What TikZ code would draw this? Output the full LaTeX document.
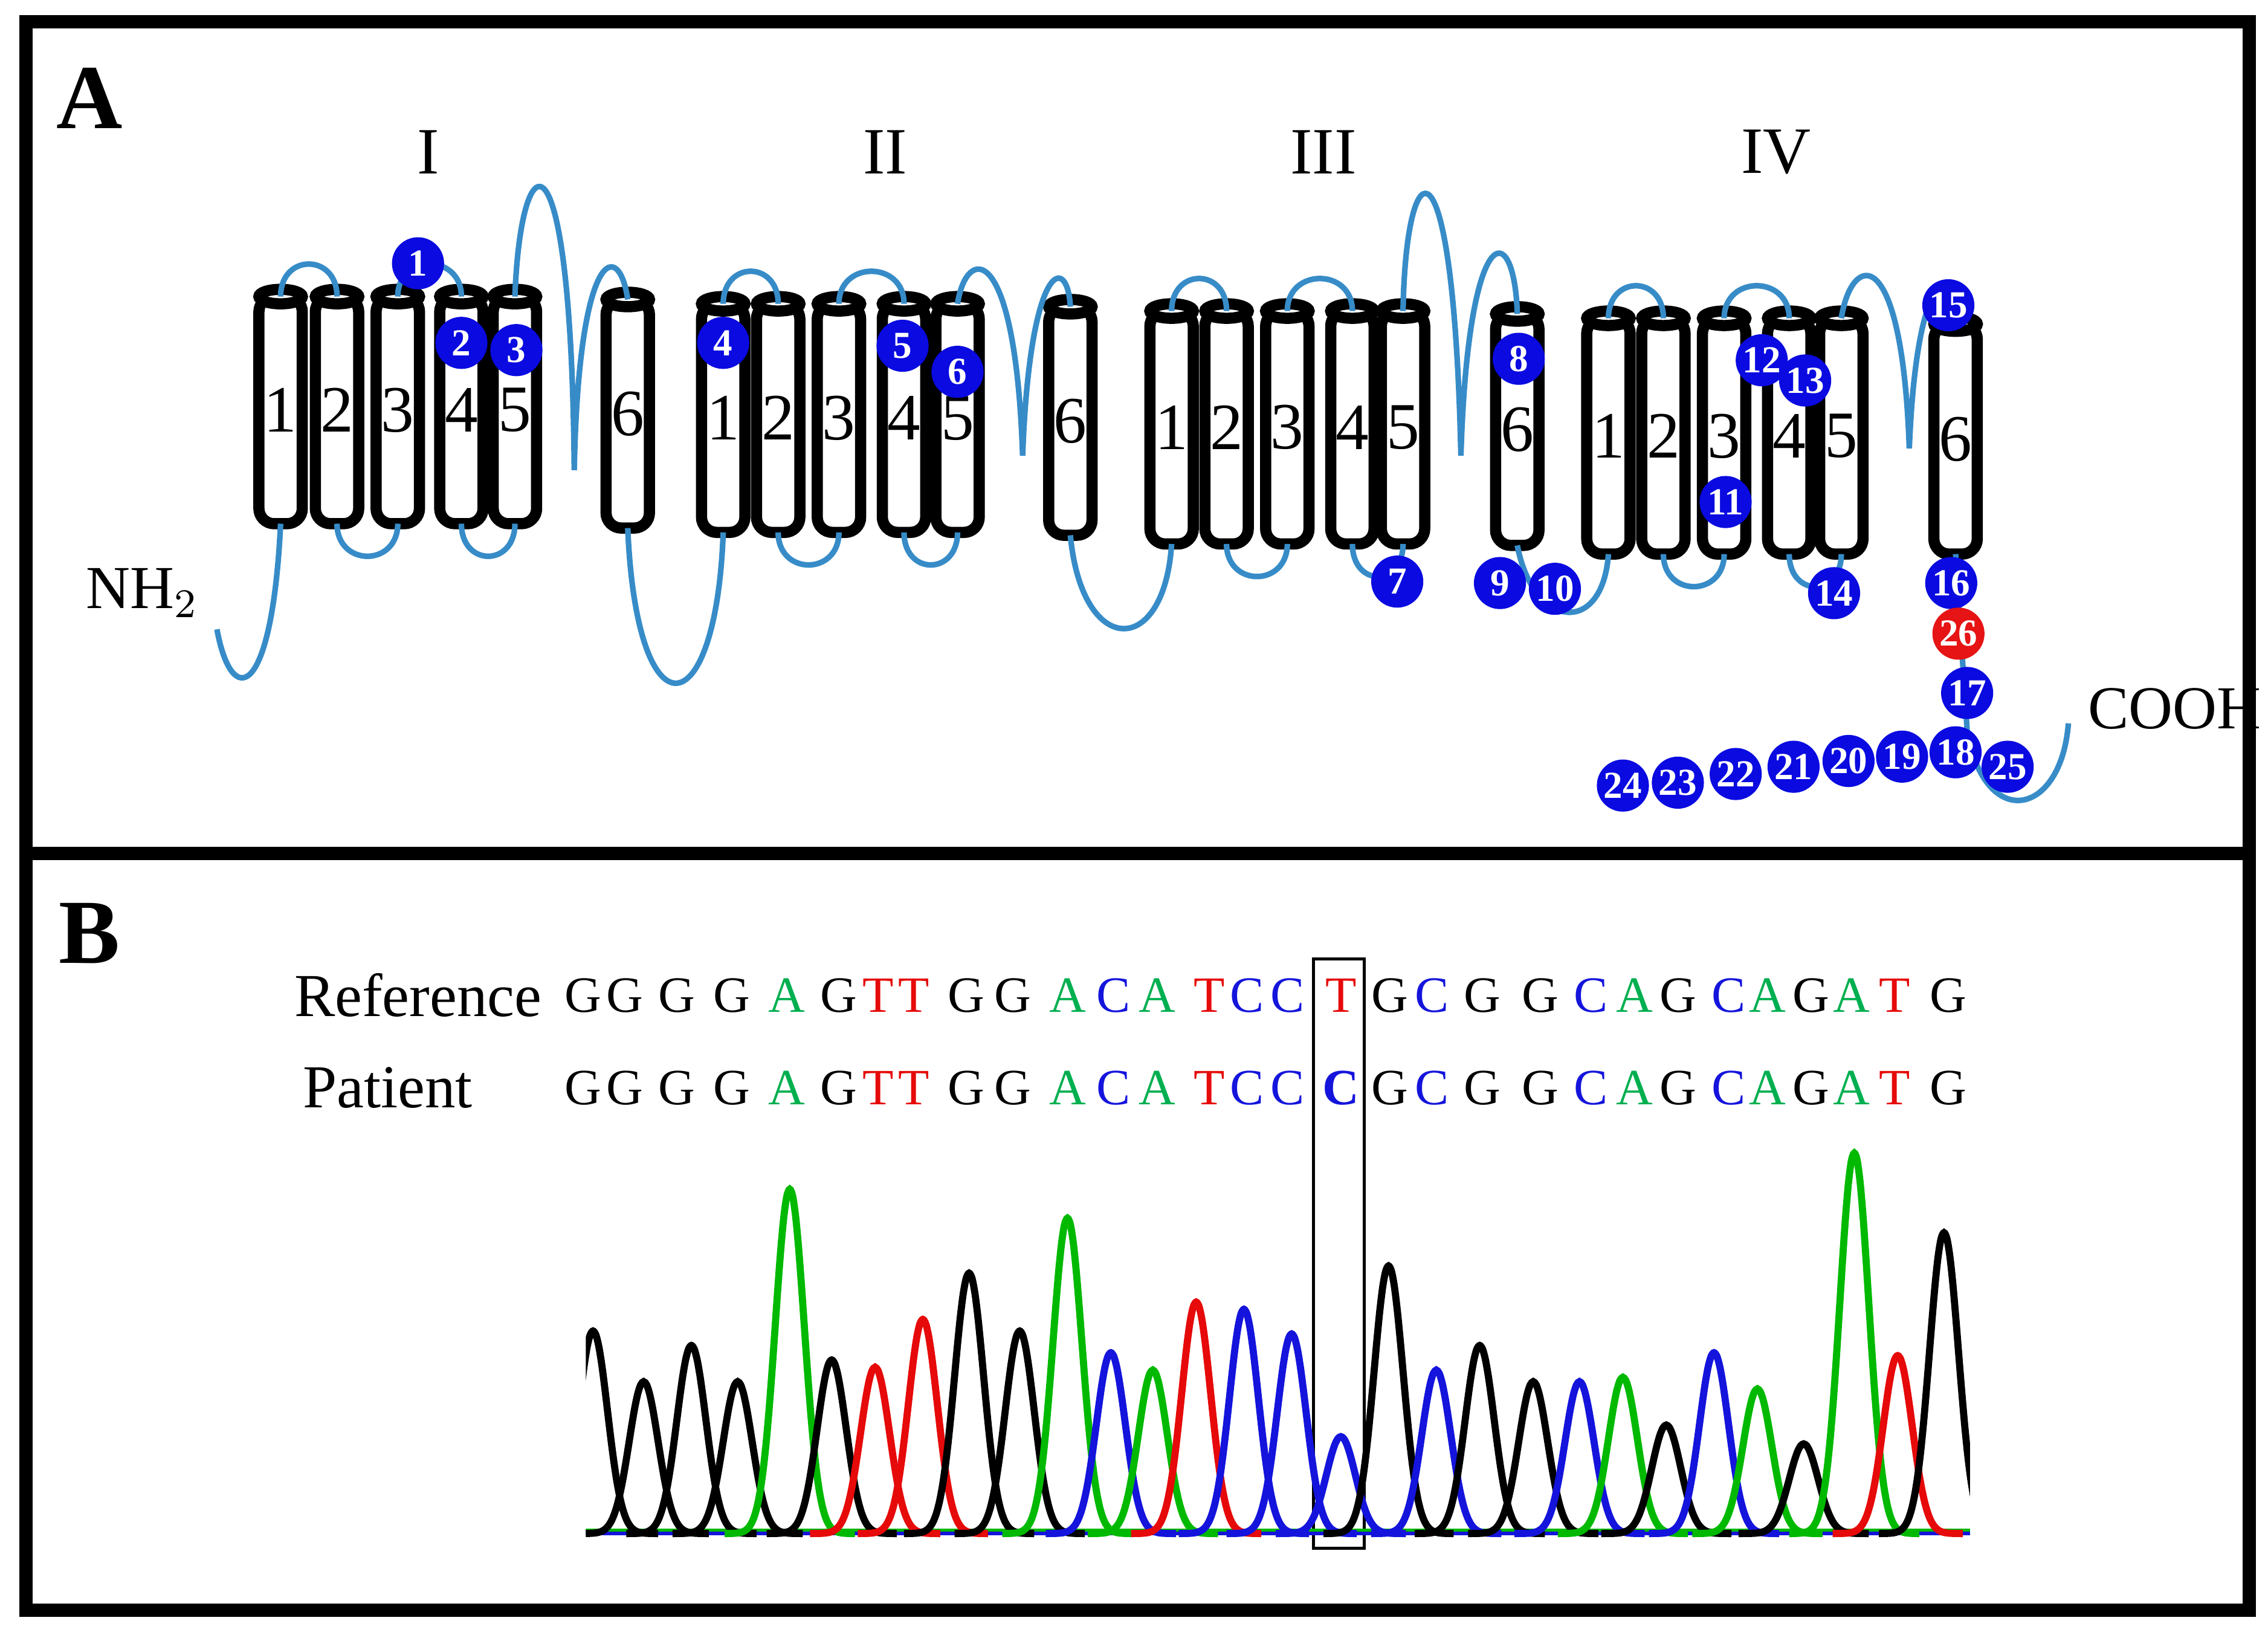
\documentclass[tikz,border=0pt]{standalone}
\usepackage{fontspec}
\setmainfont{Liberation Serif}
\usetikzlibrary{positioning}
\definecolor{loopblue}{RGB}{55,140,200}
\definecolor{dotblue}{RGB}{10,10,225}
\definecolor{dotred}{RGB}{230,20,20}
\definecolor{seqgreen}{RGB}{0,175,80}
\definecolor{seqblue}{RGB}{20,20,220}
\definecolor{seqred}{RGB}{230,10,10}
\definecolor{trgreen}{RGB}{0,185,0}
% one transmembrane segment: name, x, top, bottom, label
\newcommand{\tmseg}[5]{%
  \coordinate (#1-t) at (#2,#3);
  \coordinate (#1-b) at (#2,#4);
  \draw[seg] (#2-15,#3) rectangle (#2+15,#4);
  \draw[seg] (#2,#3) ellipse (15 and 5);
  \node[seglabel] (#1) at (#2,{(#3+#4)/2}) {#5};}
\begin{document}
\begin{tikzpicture}
    [x=0.01cm, y=-0.01cm,
    seg/.style={line width=2.2pt, fill=white, rounded corners=3pt},
    seglabel/.style={font=\fontsize{13}{13}\selectfont},
    chain/.style={loopblue, line width=1.1pt},
    dot/.style={circle, fill=dotblue, text=white, minimum size=0.36cm, inner sep=0pt, font=\fontsize{7.5}{7.5}\selectfont\bfseries},
    base/.style={font=\fontsize{10}{10}\selectfont, inner sep=0pt},
    panel/.style={font=\fontsize{18}{18}\selectfont\bfseries, inner sep=0pt}]
    \useasboundingbox (0,0) rectangle (1568,1130);
    \draw[line width=2.6pt] (18,15) rectangle (1555,1113);
    \draw[line width=2.6pt] (18,590) -- (1555,590);
    \node[panel] (labA) at (62,68) {A};
    \node[panel] (labB) at (62,645) {B};
    % domains
    \node[base, font=\fontsize{13}{13}\selectfont] (dI) at (296,105) {I};
    \node[base, font=\fontsize{13}{13}\selectfont] (dII) at (612,105) {II};
    \node[base, font=\fontsize{13}{13}\selectfont] (dIII) at (915,105) {III};
    \node[base, font=\fontsize{13}{13}\selectfont] (dIV) at (1228,105) {IV};
    \foreach \sn/\sx in {1/194,2/233,3/275,4/319,5/356}
        {\tmseg{I\sn}{\sx}{205}{362}{\sn}}
    \tmseg{I6}{434}{207}{365}{6}
    \foreach \sn/\sx in {1/500,2/538,3/580,4/625,5/662}
        {\tmseg{II\sn}{\sx}{210}{368}{\sn}}
    \tmseg{II6}{740}{212}{370}{6}
    \foreach \sn/\sx in {1/810,2/848,3/890,4/935,5/970}
        {\tmseg{III\sn}{\sx}{215}{376}{\sn}}
    \tmseg{III6}{1049}{217}{377}{6}
    \foreach \sn/\sx in {1/1112,2/1150,3/1192,4/1237,5/1273}
        {\tmseg{IV\sn}{\sx}{220}{383}{\sn}}
    \tmseg{IV6}{1352}{224}{383}{6}
    % short loops
    \foreach \d in {I,II,III,IV}{
        \draw[chain] (\d1-t) .. controls +(0,-30) and +(0,-30) .. (\d2-t);
        \draw[chain] (\d2-b) .. controls +(0,30) and +(0,30) .. (\d3-b);
        \draw[chain] (\d3-t) .. controls +(0,-30) and +(0,-30) .. (\d4-t);
        \draw[chain] (\d4-b) .. controls +(0,30) and +(0,30) .. (\d5-b);
    }
    % pore loops
    \coordinate (Ip) at (397,325);
    \coordinate (IIp) at (707,315);
    \coordinate (IIIp) at (1010,315);
    \coordinate (IVp) at (1320,310);
    \draw[chain] (I5-t) .. controls (360,95) and (395,80) .. (Ip) .. controls (400,170) and (428,165) .. (I6-t);
    \draw[chain] (II5-t) .. controls (668,170) and (702,165) .. (IIp) .. controls (712,180) and (738,175) .. (II6-t);
    \draw[chain] (III5-t) .. controls (972,100) and (1005,85) .. (IIIp) .. controls (1015,150) and (1047,150) .. (III6-t);
    \draw[chain] (IV5-t) .. controls (1280,175) and (1315,165) .. (IVp) .. controls (1325,185) and (1350,180) .. (IV6-t);
    % linkers and termini
    \coordinate (Nt) at (150,435);
    \coordinate (Ct) at (1430,500);
    \coordinate (Cb) at (1360,505);
    \draw[chain] (Nt) .. controls (160,490) and (188,485) .. (I1-b);
    \draw[chain] (I6-b) .. controls (440,510) and (495,505) .. (II1-b);
    \draw[chain] (II6-b) .. controls (748,455) and (805,455) .. (III1-b);
    \draw[chain] (III6-b) .. controls (1060,435) and (1108,440) .. (IV1-b);
    \draw[chain] (IV6-b) -- (Cb) .. controls (1372,575) and (1425,565) .. (Ct);
    \node[base, font=\fontsize{12}{12}\selectfont, anchor=east] (nh) at (138,410) {NH$_2$};
    \node[base, font=\fontsize{12}{12}\selectfont, anchor=west] (cooh) at (1443,490) {COOH};
    % variant positions
    \foreach \bx/\by/\bn in {289/182/1,319/237/2,357/242/3,500/237/4,624/239/5,662/257/6,
        966/402/7,1050/248/8,1037/403/9,1075/407/10,1193/347/11,1218/249/12,1248/263/13,
        1268/410/14,1347/211/15,1349/403/16,1360/479/17,1352/520/18,1315/523/19,1278/526/20,
        1240/530/21,1200/535/22,1160/541/23,1122/543/24,1388/530/25}
        \node[dot] (v\bn) at (\bx,\by) {\bn};
    \node[dot, fill=dotred] (v26) at (1354,438) {26};
    % panel B
    \node[base, font=\fontsize{12}{12}\selectfont] (ref) at (289,688) {Reference};
    \node[base, font=\fontsize{12}{12}\selectfont] (pat) at (268,752) {Patient};
    \foreach \sx/\sc/\sl [count=\i] in {403/black/G,432/black/G,468/black/G,506/black/G,544/seqgreen/A,
        580/black/G,607/seqred/T,632/seqred/T,668/black/G,700/black/G,738/seqgreen/A,770/seqblue/C,
        800/seqgreen/A,836/seqred/T,862/seqblue/C,890/seqblue/C,927/seqred/T,961/black/G,990/seqblue/C,
        1025/black/G,1065/black/G,1100/seqblue/C,1130/seqgreen/A,1160/black/G,1195/seqblue/C,
        1222/seqgreen/A,1252/black/G,1280/seqgreen/A,1310/seqred/T,1347/black/G}
        \node[base, text=\sc] (r\i) at (\sx,688) {\sl};
    \foreach \sx/\sc/\sl [count=\i] in {403/black/G,432/black/G,468/black/G,506/black/G,544/seqgreen/A,
        580/black/G,607/seqred/T,632/seqred/T,668/black/G,700/black/G,738/seqgreen/A,770/seqblue/C,
        800/seqgreen/A,836/seqred/T,862/seqblue/C,890/seqblue/C,927/seqblue/\textbf{C},961/black/G,990/seqblue/C,
        1025/black/G,1065/black/G,1100/seqblue/C,1130/seqgreen/A,1160/black/G,1195/seqblue/C,
        1222/seqgreen/A,1252/black/G,1280/seqgreen/A,1310/seqred/T,1347/black/G}
        \node[base, text=\sc] (p\i) at (\sx,752) {\sl};
    \draw[line width=0.6pt] (908,663) rectangle (943,1070);
    % trace
    \begin{scope}
    \clip (405,780) rectangle (1362,1065);
    \draw[trgreen, line width=0.8pt] (405,1058) -- (1362,1058);
    \draw[seqblue, line width=0.8pt] (405,1060) -- (1362,1060);
    \foreach \px/\py/\pc in {410/920/black,445/955/black,478/930/black,510/955/black,546/822/trgreen,
        575/940/black,605/945/seqred,638/912/seqred,670/880/black,705/920/black,738/842/trgreen,
        768/935/seqblue,797/947/trgreen,827/900/seqred,860/905/seqblue,893/922/seqblue,927/993/seqblue,
        960/875/black,993/947/seqblue,1023/930/black,1060/955/black,1092/955/seqblue,1122/952/trgreen,
        1152/985/black,1185/935/seqblue,1215/960/trgreen,1247/998/black,1282/797/trgreen,
        1312/937/seqred,1344/852/black}
        \draw[\pc, line width=1.4pt] plot[domain={\px-45}:{\px+45}, samples=45, smooth]
            (\x, {1060-(1060-\py)*exp(-((\x-\px)/10)^2/2)});
    \end{scope}
\end{tikzpicture}
\end{document}
